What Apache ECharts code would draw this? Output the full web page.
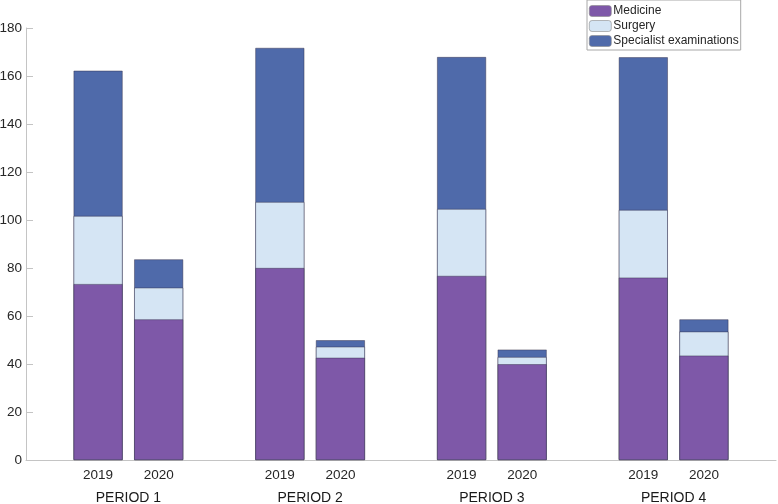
<!DOCTYPE html>
<html><head><meta charset="utf-8">
<script src="https://cdn.jsdelivr.net/npm/echarts@6/dist/echarts.min.js"></script>
<style>html,body{margin:0;padding:0;background:#fff}#c{width:778px;height:504px}</style>
</head><body><div id="c"></div>
<script>
const periods = ['PERIOD 1', 'PERIOD 2', 'PERIOD 3', 'PERIOD 4'];
const years = ['2019', '2020'];
const seriesNames = ['Medicine', 'Surgery', 'Specialist examinations'];
// values per bar, order: P1-2019, P1-2020, P2-2019, P2-2020, ...
const medicine = [73.3, 58.6, 80.0, 42.6, 76.7, 39.9, 76.0, 43.5];
const surgery = [28.4, 13.2, 27.5, 4.6, 27.9, 3.0, 28.2, 10.0];
const specialist = [60.5, 11.8, 64.2, 2.7, 63.3, 3.1, 63.6, 5.1];
const yTicks = [0, 20, 40, 60, 80, 100, 120, 140, 160, 180];

const colors = ['#7E58A8', '#D5E5F4', '#4F6AAA'];
const font = 'Liberation Sans, Arial, sans-serif';

// slot positions: each period has 2 years, then one empty slot
const slot = (i) => Math.floor(i / years.length) * (years.length + 1) + (i % years.length) + 1;
const barX = medicine.map((_, i) => slot(i));
const periodX = periods.map((_, g) => g * (years.length + 1) + (years.length + 1) / 2);

// stacked tops (cumulative), drawn back-to-front
const layers = [medicine, surgery, specialist];
const cum = layers.map((_, k) => medicine.map((__, i) => layers.slice(0, k + 1).reduce((s, a) => s + a[i], 0)));

const mk = (k) => ({
  name: seriesNames[k], type: 'bar', xAxisIndex: 0, barWidth: 49, barGap: '-100%',
  data: cum[k].map((v, i) => [barX[i], v]),
  itemStyle: { color: colors[k], borderColor: 'rgba(50,45,70,0.75)', borderWidth: 0.6 },
  emphasis: { disabled: true }
});

const xMin = -0.19, xMax = 12.19;
const chart = echarts.init(document.getElementById('c'), null, { renderer: 'canvas' });
chart.setOption({
  animation: false,
  textStyle: { fontFamily: font },
  grid: { left: 26, right: 2, top: 28, bottom: 44, containLabel: false, outerBoundsMode: 'none' },
  legend: {
    orient: 'vertical', left: 587, top: 0,
    itemWidth: 22, itemHeight: 11, itemGap: 3,
    padding: [5, 2, 3, 2],
    borderColor: '#a8a8a8', borderWidth: 1, backgroundColor: '#fff',
    textStyle: { fontSize: 12, color: '#262626', fontFamily: font, padding: [0, 0, 0, -3] },
    itemStyle: { borderColor: '#8a8a8a', borderWidth: 0.6 },
    data: seriesNames
  },
  xAxis: [{
    type: 'value', min: xMin, max: xMax,
    axisLine: { onZero: false, lineStyle: { color: '#c4c4c4', width: 1 } },
    splitLine: { show: false },
    axisTick: { show: true, inside: true, length: 5, customValues: barX, lineStyle: { color: '#555' } },
    axisLabel: {
      customValues: barX, margin: 8, fontSize: 13.5, color: '#262626', fontFamily: font,
      formatter: (v) => years[barX.indexOf(v) % years.length]
    }
  }, {
    type: 'value', min: xMin, max: xMax, position: 'bottom',
    axisLine: { show: false, onZero: false }, splitLine: { show: false }, axisTick: { show: false },
    axisLabel: {
      customValues: periodX, margin: 31, fontSize: 14, color: '#1a1a1a', fontFamily: font,
      formatter: (v) => periods[periodX.indexOf(v)]
    }
  }],
  yAxis: {
    type: 'value', min: 0, max: yTicks[yTicks.length - 1], interval: yTicks[1] - yTicks[0],
    axisLine: { show: true, onZero: false, lineStyle: { color: '#c4c4c4', width: 1 } },
    axisTick: { show: true, inside: true, length: 7, lineStyle: { color: '#c4c4c4' } },
    splitLine: { show: false },
    axisLabel: { margin: 4, fontSize: 13.5, color: '#262626', fontFamily: font }
  },
  series: [mk(2), mk(1), mk(0)]
});
</script></body></html>
